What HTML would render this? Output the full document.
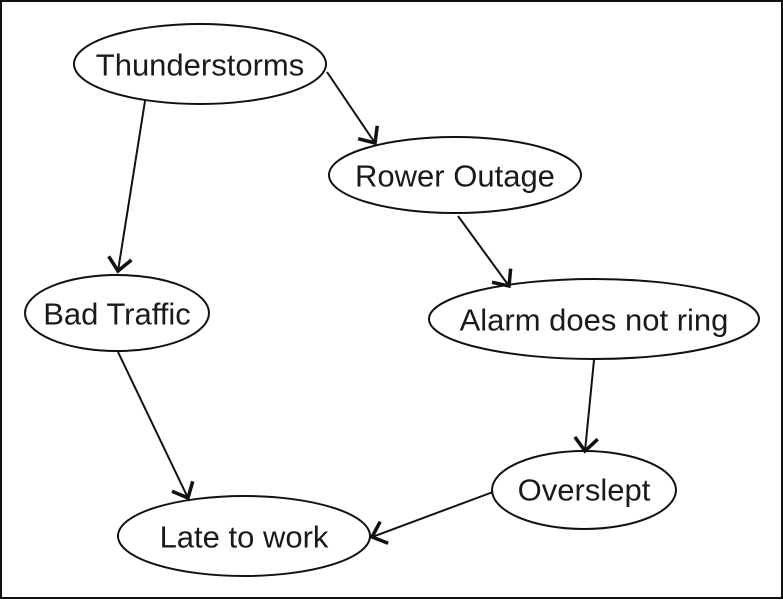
<!DOCTYPE html>
<html><head><meta charset="utf-8"><style>
html,body{margin:0;padding:0;background:#fff}
svg{display:block}
text{font-family:"Liberation Sans",sans-serif;font-size:31px;fill:#1a1a1a;text-anchor:middle;dominant-baseline:central}
</style></head><body>
<svg width="783" height="600" viewBox="0 0 783 600" xmlns="http://www.w3.org/2000/svg">
<defs>
<marker id="a" markerUnits="userSpaceOnUse" markerWidth="18" markerHeight="26" refX="15" refY="13" orient="auto" viewBox="0 0 18 26">
<path d="M2,1.5 L15,13 L2,24.5" fill="none" stroke="#111" stroke-width="3.5"/>
</marker>
</defs>
<rect x="1" y="1" width="781" height="597" fill="none" stroke="#111" stroke-width="2"/>
<g fill="none" stroke="#111" stroke-width="2">
<ellipse cx="200" cy="64" rx="126" ry="40"/>
<ellipse cx="455" cy="175" rx="126" ry="38"/>
<ellipse cx="117" cy="313" rx="92" ry="38"/>
<ellipse cx="594" cy="319" rx="165" ry="40"/>
<ellipse cx="584" cy="490" rx="92" ry="39"/>
<ellipse cx="244" cy="536" rx="126" ry="40"/>
<g marker-end="url(#a)">
<line x1="145" y1="101" x2="118" y2="271"/>
<line x1="327" y1="72" x2="375" y2="143"/>
<line x1="458" y1="216" x2="509" y2="286"/>
<line x1="118" y1="352" x2="188" y2="498"/>
<line x1="594" y1="360" x2="585" y2="451"/>
<line x1="493" y1="492" x2="372" y2="537"/>
</g>
</g>
<text x="200" y="65">Thunderstorms</text>
<text x="455" y="176">Rower Outage</text>
<text x="117" y="314">Bad Traffic</text>
<text x="594" y="320">Alarm does not ring</text>
<text x="584" y="490">Overslept</text>
<text x="244" y="537">Late to work</text>
</svg>
</body></html>
